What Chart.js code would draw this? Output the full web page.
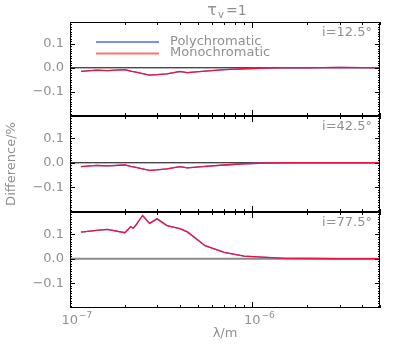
<!DOCTYPE html>
<html>
<head>
<meta charset="utf-8">
<script src="https://cdn.jsdelivr.net/npm/chart.js@4.4.0/dist/chart.umd.min.js"></script>
<style>
  body { margin: 0; background: #fff; }
  #wrap { position: relative; width: 407px; height: 350px; }
  #wrap canvas { position: absolute; left: 0; top: 0; }
</style>
</head>
<body>
<div id="wrap">
  <canvas id="p1" width="407" height="350"></canvas>
  <canvas id="p2" width="407" height="350"></canvas>
  <canvas id="p3" width="407" height="350"></canvas>
</div>
<script>
// longueurs d'onde (m)
const lambdas = [1.15e-7, 1.4e-7, 1.6e-7, 2.0e-7, 2.15e-7, 2.22e-7, 2.3e-7, 2.5e-7, 2.73e-7, 3.0e-7, 3.4e-7, 4.0e-7, 4.4e-7, 5.5e-7, 7.0e-7, 9.0e-7, 1.2e-6, 1.5e-6, 2.0e-6, 3.0e-6, 4.0e-6, 5.0e-6];

// i = 12.5°
const poly12 = [-0.015, -0.010, -0.012, -0.008, -0.014, -0.016, -0.018, -0.024, -0.030, -0.028, -0.025, -0.016, -0.020, -0.014, -0.008, -0.004, -0.001, 0.000, 0.000, 0.002, 0.001, 0.000];
const mono12 = [-0.015, -0.010, -0.012, -0.008, -0.014, -0.016, -0.018, -0.024, -0.030, -0.028, -0.025, -0.015, -0.020, -0.014, -0.008, -0.004, -0.001, 0.000, 0.000, 0.002, 0.001, 0.000];

// i = 42.5°
const poly42 = [-0.016, -0.011, -0.013, -0.009, -0.015, -0.017, -0.019, -0.025, -0.031, -0.029, -0.025, -0.016, -0.021, -0.015, -0.009, -0.004, -0.001, 0.000, 0.000, 0.000, 0.000, 0.000];
const mono42 = [-0.016, -0.011, -0.013, -0.009, -0.015, -0.017, -0.019, -0.025, -0.031, -0.029, -0.025, -0.016, -0.021, -0.015, -0.009, -0.004, -0.001, 0.000, 0.000, 0.000, 0.000, 0.000];

// i = 77.5°
const poly77 = [0.108, 0.115, 0.119, 0.106, 0.131, 0.124, 0.138, 0.176, 0.144, 0.162, 0.135, 0.122, 0.109, 0.053, 0.026, 0.011, 0.006, 0.002, 0.001, 0.000, 0.000, 0.000];
const mono77 = [0.108, 0.115, 0.119, 0.106, 0.130, 0.124, 0.137, 0.176, 0.144, 0.162, 0.135, 0.122, 0.109, 0.053, 0.026, 0.011, 0.006, 0.002, 0.001, 0.000, 0.000, 0.000];

const yTicks = [-0.1, 0.0, 0.1];
const xTicks = [1e-7, 1e-6];
const xTickLabels = [['10', '\u22127'], ['10', '\u22126']];
const seriesNames = ['Polychromatic', 'Monochromatic'];

const BLEU = '#6f6fff';
const ROUGE = '#e8163c';
const GRIS = '#909090';
const POLICE = '"DejaVu Sans", "Liberation Sans", sans-serif';

function pontos(valores) {
  return lambdas.map((l, i) => ({ x: l, y: valores[i] }));
}

function formatY(v) {
  if (v < 0) return '\u2212' + Math.abs(v).toFixed(1);
  return v.toFixed(1);
}

const cadrePlugin = {
  id: 'cadre',
  beforeDatasetsDraw(chart, args, opts) {
    const { ctx, chartArea: a, scales } = chart;
    const y0 = scales.y.getPixelForValue(0);
    ctx.save();
    ctx.strokeStyle = opts.zeroColor;
    ctx.lineWidth = opts.zeroWidth;
    ctx.beginPath();
    ctx.moveTo(a.left, y0);
    ctx.lineTo(a.right, y0);
    ctx.stroke();
    ctx.restore();
  },
  afterDatasetsDraw(chart, args, opts) {
    const { ctx, chartArea: a, scales } = chart;
    const xs = scales.x, ys = scales.y;
    ctx.save();
    ctx.strokeStyle = '#000';
    ctx.lineWidth = 1;
    ctx.strokeRect(a.left + 0.5, a.top + 0.5, a.right - a.left - 1, a.bottom - a.top - 1);

    // graduations x (vers l'intérieur)
    ctx.beginPath();
    for (let e = -7; e <= -6; e++) {
      for (let k = 1; k <= 9; k++) {
        const v = k * Math.pow(10, e);
        if (v > xs.max) continue;
        const px = Math.round(xs.getPixelForValue(v)) + 0.5;
        const len = k === 1 ? 6 : 3;
        ctx.moveTo(px, a.top);
        ctx.lineTo(px, a.top + len);
        ctx.moveTo(px, a.bottom);
        ctx.lineTo(px, a.bottom - len);
      }
    }
    // graduations y
    for (let i = -19; i <= 19; i++) {
      const v = i / 100;
      if (v < ys.min || v > ys.max) continue;
      const py = Math.round(ys.getPixelForValue(v)) + 0.5;
      const len = i % 10 === 0 ? 5 : 2;
      ctx.moveTo(a.left, py);
      ctx.lineTo(a.left + len, py);
      ctx.moveTo(a.right, py);
      ctx.lineTo(a.right - len, py);
    }
    ctx.stroke();

    // étiquettes y
    ctx.fillStyle = GRIS;
    ctx.font = '13px ' + POLICE;
    ctx.textAlign = 'right';
    ctx.textBaseline = 'middle';
    yTicks.forEach(v => {
      ctx.fillText(formatY(v), a.left - 6, ys.getPixelForValue(v));
    });

    // étiquette du panneau
    ctx.font = '13px ' + POLICE;
    ctx.textAlign = 'right';
    ctx.fillText(opts.label, a.right - 8, a.top + 11);

    if (opts.titre) {
      const cx = (a.left + a.right) / 2;
      ctx.font = '16px ' + POLICE;
      ctx.textAlign = 'right';
      ctx.fillText('\u03c4', cx - 8, 11);
      ctx.font = '10px ' + POLICE;
      ctx.textAlign = 'left';
      ctx.fillText('v', cx - 7, 15);
      ctx.font = '14px ' + POLICE;
      ctx.fillText('=1', cx + 1, 11);

      // légende
      const ds = chart.data.datasets;
      ctx.lineWidth = 2;
      ctx.font = '13px ' + POLICE;
      ds.forEach((d, i) => {
        const ly = 42 + i * 11.5;
        ctx.strokeStyle = i === 0 ? '#7c8cff' : '#ff7070';
        ctx.beginPath();
        ctx.moveTo(96, ly);
        ctx.lineTo(159, ly);
        ctx.stroke();
        ctx.fillStyle = GRIS;
        ctx.fillText(d.label, 170, ly - 0.5);
      });
    }

    if (opts.ylabel) {
      ctx.save();
      ctx.translate(12, (a.top + a.bottom) / 2);
      ctx.rotate(-Math.PI / 2);
      ctx.textAlign = 'center';
      ctx.font = '13px ' + POLICE;
      ctx.fillText('Difference/%', 0, 0);
      ctx.restore();
    }

    if (opts.xlabels) {
      ctx.fillStyle = GRIS;
      xTicks.forEach((v, i) => {
        const px = xs.getPixelForValue(v);
        ctx.font = '13px ' + POLICE;
        ctx.textAlign = 'right';
        ctx.fillText(xTickLabels[i][0], px + 8, a.bottom + 13);
        ctx.font = '9px ' + POLICE;
        ctx.textAlign = 'left';
        ctx.fillText(xTickLabels[i][1], px + 9, a.bottom + 8);
      });
      ctx.font = '13px ' + POLICE;
      ctx.textAlign = 'center';
      ctx.fillText('\u03bb/m', (a.left + a.right) / 2, a.bottom + 26);
    }
    ctx.restore();
  }
};

function criarPainel(id, poly, mono, padTop, padBottom, extra) {
  return new Chart(document.getElementById(id), {
    type: 'line',
    data: {
      datasets: [
        { label: seriesNames[0], data: pontos(poly), borderColor: BLEU, borderWidth: 1.3, pointRadius: 0, tension: 0, order: 2 },
        { label: seriesNames[1], data: pontos(mono), borderColor: ROUGE, borderWidth: 1.3, pointRadius: 0, tension: 0, order: 1 }
      ]
    },
    options: {
      responsive: false,
      animation: false,
      events: [],
      layout: { padding: { left: 70, right: 27, top: padTop, bottom: padBottom } },
      scales: {
        x: { type: 'logarithmic', min: 1e-7, max: 5e-6, display: false },
        y: { type: 'linear', min: -0.2, max: 0.19, display: false }
      },
      plugins: {
        legend: { display: false },
        tooltip: { enabled: false },
        cadre: Object.assign({ zeroColor: '#000', zeroWidth: 1 }, extra)
      }
    },
    plugins: [cadrePlugin]
  });
}

criarPainel('p1', poly12, mono12, 22, 350 - 116, { label: 'i=12.5\u00b0', titre: true });
criarPainel('p2', poly42, mono42, 116, 350 - 212, { label: 'i=42.5\u00b0', ylabel: true });
criarPainel('p3', poly77, mono77, 212, 350 - 308, { label: 'i=77.5\u00b0', xlabels: true, zeroColor: '#8a8a8a', zeroWidth: 2 });
</script>
</body>
</html>
